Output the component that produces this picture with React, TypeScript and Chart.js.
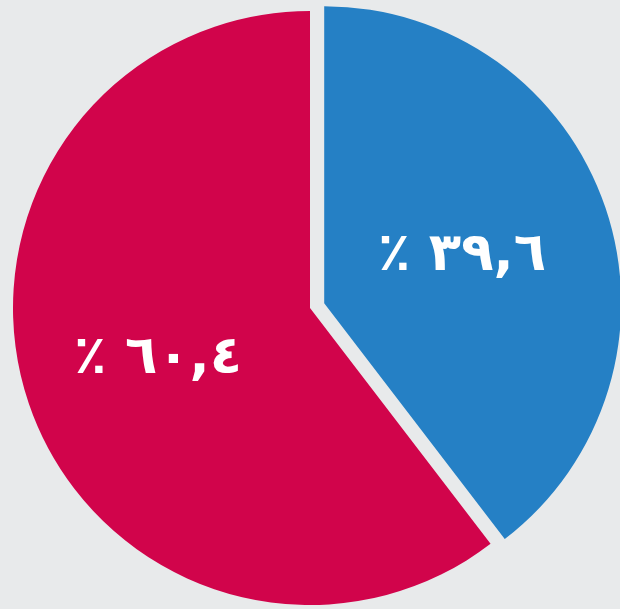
import React, { useEffect, useRef } from "react";
import { Chart, registerables } from "chart.js";

Chart.register(...registerables);

// ---- data ----
const categories = ["Group A", "Group B"];
const shares = [39.6, 60.4];
const valueLabels = ["٣٩,٦ ٪", "٦٠,٤ ٪"];

// ---- style ----
const sliceColors = ["#2580c5", "#d1044b"];
const sliceExplode = [15, 0];
const labelRadius = [0.49, 0.54];
const bgColor = "#e8eaeb";

// explode slices by translating each arc along its bisector (true pixel offset)
const explodePlugin = {
  id: "explodeSlices",
  beforeDatasetsDraw(chart: any) {
    const meta = chart.getDatasetMeta(0);
    meta.data.forEach((arc: any, i: number) => {
      if (arc.__exploded) return;
      const orig = arc.draw.bind(arc);
      arc.draw = (ctx: CanvasRenderingContext2D, area: any) => {
        const off = sliceExplode[i] || 0;
        const mid = (arc.startAngle + arc.endAngle) / 2;
        ctx.save();
        ctx.translate(Math.cos(mid) * off, Math.sin(mid) * off);
        orig(ctx, area);
        ctx.restore();
      };
      arc.__exploded = true;
    });
  },
};

const labelPlugin = {
  id: "sliceLabels",
  afterDatasetsDraw(chart: any) {
    const ctx = chart.ctx as CanvasRenderingContext2D;
    const meta = chart.getDatasetMeta(0);
    ctx.save();
    ctx.fillStyle = "#ffffff";
    ctx.font = "bold 53px 'DejaVu Sans'";
    ctx.textAlign = "center";
    ctx.textBaseline = "middle";
    (ctx as any).direction = "rtl";
    meta.data.forEach((arc: any, i: number) => {
      const mid = (arc.startAngle + arc.endAngle) / 2;
      const off = sliceExplode[i] || 0;
      const r = arc.outerRadius * labelRadius[i];
      const lx = arc.x + Math.cos(mid) * (r + off);
      const ly = arc.y + Math.sin(mid) * (r + off);
      ctx.fillText(valueLabels[i], lx, ly);
    });
    ctx.restore();
  },
};

export default function App() {
  const ref = useRef<HTMLCanvasElement | null>(null);
  useEffect(() => {
    if (!ref.current) return;
    const chart = new Chart(ref.current, {
      type: "pie",
      data: {
        labels: categories,
        datasets: [
          {
            data: shares,
            backgroundColor: sliceColors,
            borderWidth: 0,
            clip: false,
          },
        ],
      },
      options: {
        responsive: false,
        animation: false,
        layout: { padding: { left: 13, top: 11, right: 13, bottom: 4 } },
        plugins: {
          legend: { display: false },
          tooltip: { enabled: false },
        },
      },
      plugins: [explodePlugin, labelPlugin],
    });
    chart.draw();
    return () => chart.destroy();
  }, []);
  return (
    <div
      style={{
        position: "fixed",
        left: 0,
        top: 0,
        width: 620,
        height: 609,
        overflow: "hidden",
        background: bgColor,
      }}
    >
      <canvas ref={ref} width={620} height={609} style={{ display: "block" }} />
    </div>
  );
}
